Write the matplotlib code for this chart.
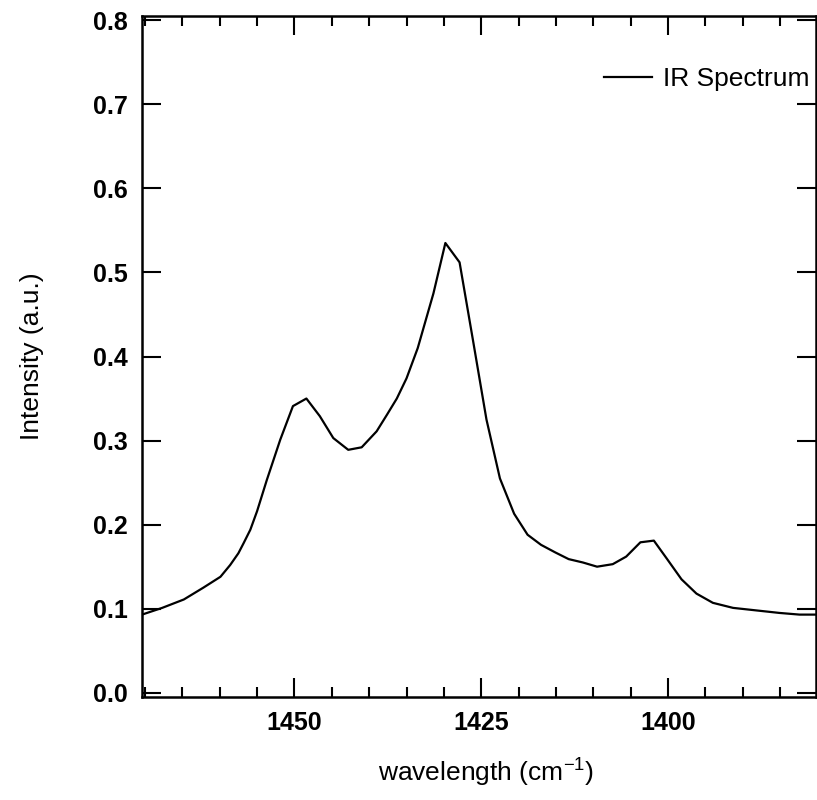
'''
IR spectrum plot (intensity vs wavenumber)
'''

import matplotlib
matplotlib.use('Agg')
import matplotlib.pyplot as plt
from matplotlib.ticker import MultipleLocator


WAVENUMBERS = [
    1470.4, 1467.7, 1464.8, 1462.2, 1459.9, 1458.6, 1457.5, 1456.8,
    1455.9, 1455.0, 1453.7, 1451.9, 1450.2, 1448.4, 1446.6, 1444.8,
    1442.8, 1441.0, 1439.0, 1437.6, 1436.3, 1435.0, 1433.5, 1431.4,
    1429.8, 1427.9, 1426.1, 1424.3, 1422.5, 1420.6, 1418.8, 1417.0,
    1415.1, 1413.3, 1411.4, 1409.5, 1407.4, 1405.6, 1403.7, 1401.9,
    1400.2, 1398.2, 1396.2, 1394.0, 1391.3, 1388.2, 1385.1, 1382.4,
    1380.2,
]

INTENSITY = [
    0.093, 0.101, 0.111, 0.125, 0.138, 0.152, 0.166, 0.178,
    0.194, 0.216, 0.253, 0.301, 0.341, 0.350, 0.329, 0.303,
    0.289, 0.292, 0.311, 0.331, 0.350, 0.374, 0.410, 0.475,
    0.535, 0.512, 0.419, 0.325, 0.255, 0.213, 0.188, 0.176,
    0.167, 0.159, 0.155, 0.150, 0.153, 0.162, 0.179, 0.181,
    0.160, 0.135, 0.118, 0.107, 0.101, 0.098, 0.095, 0.093,
    0.093,
]

Y_TICKS = [0.0, 0.1, 0.2, 0.3, 0.4, 0.5, 0.6, 0.7, 0.8]
X_TICKS = [1450, 1425, 1400]


def plot_spectrum(wavenumbers, intensity):
    '''
    Draw the spectrum with inward ticks on all four sides
    '''
    plt.rcParams['font.family'] = ['Liberation Sans', 'DejaVu Sans']
    plt.rcParams['mathtext.fontset'] = 'custom'
    plt.rcParams['mathtext.rm'] = 'Liberation Sans'

    fig = plt.figure(figsize=(8.17, 8.0), dpi=100)
    ax = fig.add_axes([142 / 817, 103 / 800, 674 / 817, 681 / 800])

    ax.plot(wavenumbers, intensity, color='black', linewidth=1.6,
            label='IR Spectrum')

    ax.set_xlim(1470.4, 1380.2)
    ax.set_ylim(-0.005, 0.805)

    ax.set_xticks(X_TICKS)
    ax.xaxis.set_minor_locator(MultipleLocator(5))
    ax.set_yticks(Y_TICKS)
    ax.set_yticklabels([f'{t:.1f}' for t in Y_TICKS])

    ax.tick_params(which='both', direction='in', top=True, right=True,
                   width=1.5, labelsize=18, pad=10)
    ax.tick_params(which='major', length=14)
    ax.tick_params(which='minor', length=7)
    for label in ax.get_xticklabels() + ax.get_yticklabels():
        label.set_fontweight('bold')

    for spine in ax.spines.values():
        spine.set_linewidth(1.8)

    ax.set_xlabel('wavelength (cm$^{\\mathregular{-1}}$)', fontsize=19)
    ax.xaxis.set_label_coords(0.51, -0.085)
    ax.set_ylabel('Intensity (a.u.)', fontsize=19)
    ax.yaxis.set_label_coords(-0.145, 0.5)

    ax.legend(loc='center right', bbox_to_anchor=(0.991, 0.9075),
              frameon=False, fontsize=19, borderpad=0, borderaxespad=0,
              handlelength=1.8, handletextpad=0.45)

    fig.savefig('out.png', dpi=100)


def run():
    '''
    Execute all the code in order to plot the graph
    '''
    plot_spectrum(WAVENUMBERS, INTENSITY)


run()
